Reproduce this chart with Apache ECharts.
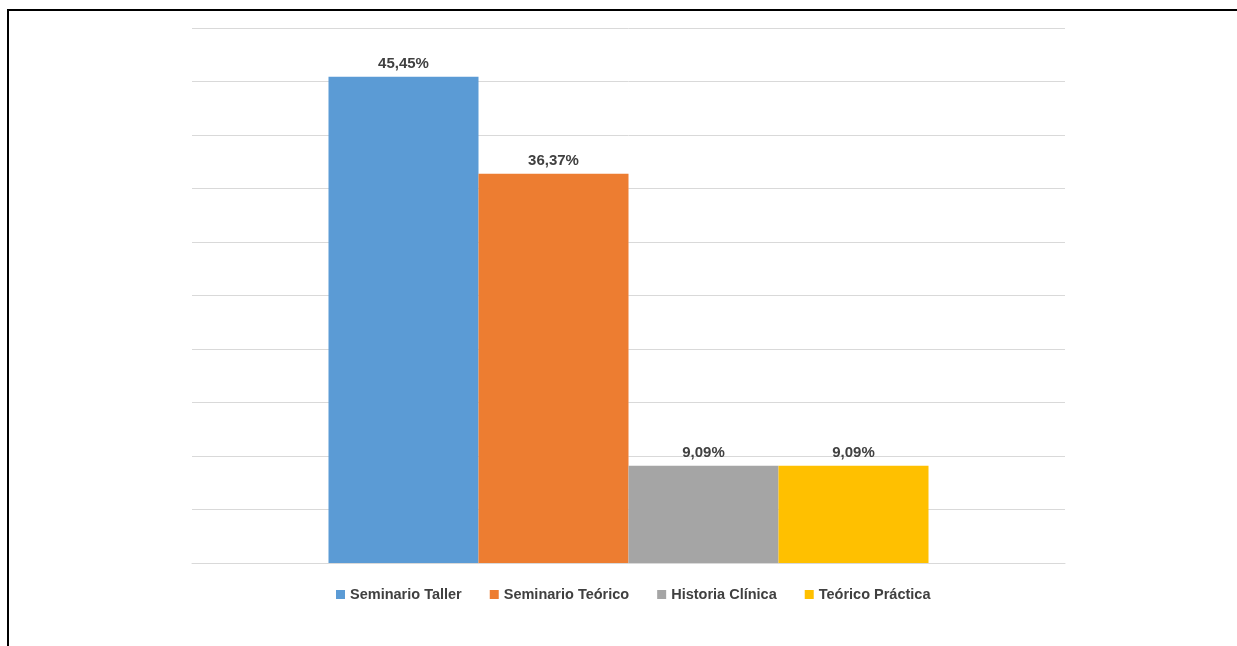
<!DOCTYPE html>
<html><head><meta charset="utf-8">
<script src="https://cdn.jsdelivr.net/npm/echarts@6/dist/echarts.min.js"></script>
<style>
html,body{margin:0;padding:0;background:#fff;}
#frame{position:absolute;left:7px;top:9px;width:1230px;height:637px;border-top:2px solid #000;border-left:2px solid #000;box-sizing:border-box;}
#chart{position:absolute;left:0;top:0;width:1237px;height:646px;}
</style></head>
<body>
<div id="frame"></div>
<div id="chart"></div>
<script>
const categories = ['Modalidad'];
const seriesNames = ['Seminario Taller', 'Seminario Teórico', 'Historia Clínica', 'Teórico Práctica'];
const seriesValues = [45.45, 36.37, 9.09, 9.09];
const valueLabels = ['45,45%', '36,37%', '9,09%', '9,09%'];
const colors = ['#5B9BD5', '#ED7D31', '#A5A5A5', '#FFC000'];

const chart = echarts.init(document.getElementById('chart'), null, {renderer: 'canvas'});
const font = '"Liberation Sans", Arial, sans-serif';
chart.setOption({
  animation: false,
  textStyle: {fontFamily: font},
  grid: {left: 192, right: 172, top: 28, bottom: 83, containLabel: false},
  legend: {
    top: 582, left: 331,
    itemWidth: 9, itemHeight: 9, itemGap: 28,
    icon: 'rect',
    textStyle: {fontFamily: font, fontSize: 14.5, fontWeight: 'bold', color: '#404040'},
    data: seriesNames
  },
  xAxis: {
    type: 'category', data: categories,
    axisLine: {show: true, lineStyle: {color: '#D9D9D9', width: 1}},
    axisTick: {show: false}, axisLabel: {show: false}
  },
  yAxis: {
    type: 'value', min: 0, max: 50, interval: 5,
    axisLine: {show: false}, axisTick: {show: false}, axisLabel: {show: false},
    splitLine: {lineStyle: {color: '#D9D9D9', width: 1}}
  },
  series: seriesNames.map((n, i) => ({
    name: n, type: 'bar', barWidth: 150, barGap: '0%',
    itemStyle: {color: colors[i]},
    label: {show: true, position: 'top', distance: 5, formatter: () => valueLabels[i],
      fontFamily: font, fontSize: 15, fontWeight: 'bold', color: '#404040'},
    data: [seriesValues[i]]
  }))
});
</script>
</body></html>
